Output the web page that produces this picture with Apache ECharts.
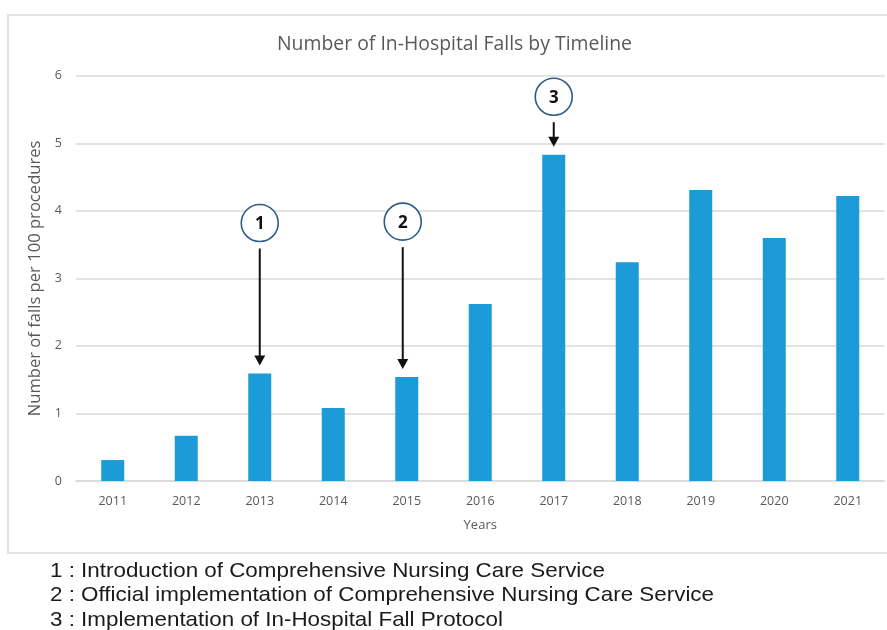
<!DOCTYPE html>
<html>
<head>
<meta charset="utf-8">
<script src="https://cdn.jsdelivr.net/npm/echarts@6/dist/echarts.min.js"></script>
<style>
  html, body { margin: 0; padding: 0; background: #ffffff; }
  #chart { width: 887px; height: 630px; }
</style>
</head>
<body>
<div id="chart"></div>
<script>
// Falls per 100 procedures, by year
const years = ['2011', '2012', '2013', '2014', '2015', '2016', '2017', '2018', '2019', '2020', '2021'];
const fallsRate = [0.31, 0.67, 1.59, 1.08, 1.54, 2.62, 4.83, 3.24, 4.31, 3.60, 4.22];
const yTicks = [0, 1, 2, 3, 4, 5, 6];

// Numbered milestones: year, label, and height (in axis units) of the circle marker
const milestoneYears = ['2013', '2015', '2017'];
const milestoneLabels = ['1', '2', '3'];
const milestoneLevels = [3.82, 3.84, 5.69];

// Footnotes explaining the milestones
const footnotes = [
  '1 : Introduction of Comprehensive Nursing Care Service',
  '2 : Official implementation of Comprehensive Nursing Care Service',
  '3 : Implementation of In-Hospital Fall Protocol'
];

const chart = echarts.init(document.getElementById('chart'), null, { renderer: 'canvas' });
const textGrey = '#595959';
const gridGrey = '#d9d9d9';
const font = '"Open Sans", "Liberation Sans", sans-serif';

chart.setOption({
  animation: false,
  backgroundColor: '#ffffff',
  title: {
    text: 'Number of In-Hospital Falls by Timeline',
    left: 272,
    top: 30,
    textStyle: { fontFamily: font, fontSize: 19.4, fontWeight: 'normal', color: textGrey }
  },
  grid: { left: 76, right: 2.5, top: 75.8, bottom: 149, containLabel: false },
  xAxis: {
    type: 'category',
    data: years,
    name: 'Years',
    nameLocation: 'middle',
    nameGap: 38,
    nameTextStyle: { fontFamily: font, fontSize: 13, color: textGrey },
    axisLine: { lineStyle: { color: gridGrey, width: 1.5 } },
    axisTick: { show: false },
    axisLabel: { fontFamily: font, fontSize: 12.5, color: textGrey, margin: 14 }
  },
  yAxis: {
    type: 'value',
    min: yTicks[0],
    max: yTicks[yTicks.length - 1],
    interval: 1,
    name: 'Number of falls per 100 procedures',
    nameLocation: 'middle',
    nameGap: 21,
    nameTextStyle: { fontFamily: font, fontSize: 16.6, color: textGrey },
    axisLine: { show: false },
    axisTick: { show: false },
    axisLabel: { fontFamily: font, fontSize: 12.5, color: textGrey, margin: 14 },
    splitLine: { lineStyle: { color: gridGrey, width: 1.5 } }
  },
  series: [{
    type: 'bar',
    data: fallsRate,
    barWidth: 23,
    itemStyle: { color: '#1b9bd7' }
  }]
});

// Chart frame, milestone circles with arrows, and footnotes
function drawOverlay() {
  const elements = [{
    type: 'rect',
    shape: { x: 8, y: 15, width: 890, height: 538 },
    style: { fill: 'none', stroke: gridGrey, lineWidth: 1.5 },
    silent: true,
    z: -1
  }];
  const nudge = [0, -4, 0]; // small horizontal shift of each marker off the bar centre
  milestoneYears.forEach((yr, i) => {
    const idx = years.indexOf(yr);
    const top = chart.convertToPixel({ seriesIndex: 0 }, [idx, fallsRate[idx]]);
    const circ = chart.convertToPixel({ seriesIndex: 0 }, [idx, milestoneLevels[i]]);
    const x = top[0] + nudge[i];
    const r = 18.5;
    elements.push({
      type: 'circle',
      shape: { cx: x, cy: circ[1], r: r },
      style: { fill: '#ffffff', stroke: '#2e5c8a', lineWidth: 1.6 },
      z: 10
    });
    elements.push({
      type: 'text',
      x: x, y: circ[1] + 1,
      style: {
        text: milestoneLabels[i], fontFamily: font, fontSize: 17, fontWeight: 'bold',
        fill: '#111111', align: 'center', verticalAlign: 'middle'
      },
      z: 11
    });
    const y0 = circ[1] + r + 7;
    const y1 = top[1] - 8;
    elements.push({
      type: 'line',
      shape: { x1: x, y1: y0, x2: x, y2: y1 - 8 },
      style: { stroke: '#111111', lineWidth: 2 },
      z: 10
    });
    elements.push({
      type: 'polygon',
      shape: { points: [[x - 5.5, y1 - 10], [x + 5.5, y1 - 10], [x, y1]] },
      style: { fill: '#111111' },
      z: 10
    });
  });
  footnotes.forEach((t, i) => {
    elements.push({
      type: 'text',
      x: 50, y: 571 + i * 24.5,
      scaleX: 1.066,
      style: {
        text: t, fontFamily: '"Liberation Sans", Arial, sans-serif', fontSize: 21,
        fill: '#1a1a1a', align: 'left', verticalAlign: 'middle'
      }
    });
  });
  chart.setOption({ graphic: { elements: elements } });
}
drawOverlay();
</script>
</body>
</html>
